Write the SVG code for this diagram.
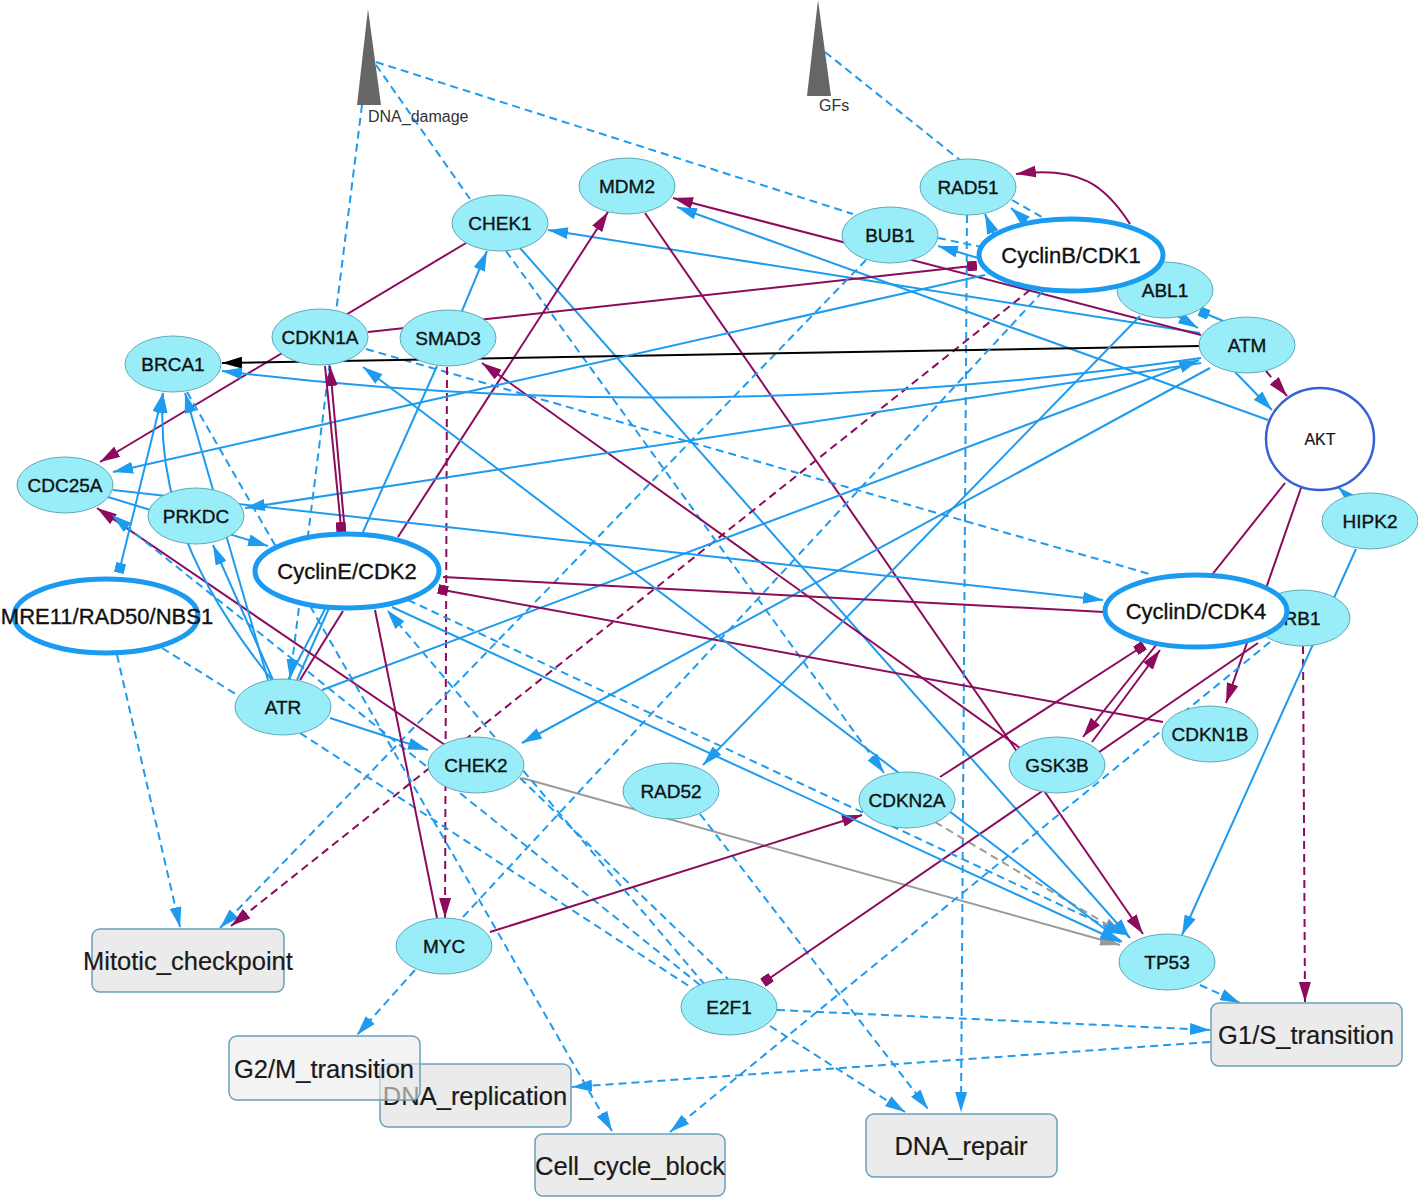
<svg xmlns="http://www.w3.org/2000/svg" width="1418" height="1197" viewBox="0 0 1418 1197">
<style>
.e{fill:none;stroke-width:2}
.b{stroke:#1E9BEF}
.p{stroke:#8C0B5C}
.g{stroke:#9A9A9A}
.k{stroke:#000}
.d{stroke-dasharray:8 5}
.n ellipse{fill:#98EDF9;stroke:#5FA9B8;stroke-width:1}
.big ellipse{fill:#fff;stroke:#1A9AF0;stroke-width:5}
.t{font-family:"Liberation Sans",Arial,sans-serif;font-size:19px;fill:#111;stroke:#111;stroke-width:0.35;text-anchor:middle;dominant-baseline:central}
.bt{font-size:22px}
.box rect{fill:#EBEBEB;stroke:#6BA0BA;stroke-width:1.5}
.bx{font-size:25.5px;fill:#1a1a1a;stroke:#1a1a1a;stroke-width:0.2}
.in{fill:#666}
.il{font-family:"Liberation Sans",Arial,sans-serif;font-size:16px;fill:#333}
</style>
<defs>
<marker id="ab" viewBox="0 0 20 12" refX="20" refY="6" markerWidth="20" markerHeight="12" orient="auto" markerUnits="userSpaceOnUse"><path d="M0,0L20,6L0,12z" fill="#1E9BEF"/></marker>
<marker id="ap" viewBox="0 0 20 12" refX="20" refY="6" markerWidth="20" markerHeight="12" orient="auto" markerUnits="userSpaceOnUse"><path d="M0,0L20,6L0,12z" fill="#8C0B5C"/></marker>
<marker id="ag" viewBox="0 0 20 12" refX="20" refY="6" markerWidth="20" markerHeight="12" orient="auto" markerUnits="userSpaceOnUse"><path d="M0,0L20,6L0,12z" fill="#9A9A9A"/></marker>
<marker id="ak" viewBox="0 0 20 12" refX="20" refY="6" markerWidth="20" markerHeight="12" orient="auto" markerUnits="userSpaceOnUse"><path d="M0,0L20,6L0,12z" fill="#000"/></marker>
<marker id="sb" viewBox="0 0 10 10" refX="5" refY="5" markerWidth="10" markerHeight="10" orient="auto" markerUnits="userSpaceOnUse"><rect width="10" height="10" fill="#1E9BEF"/></marker>
<marker id="sp" viewBox="0 0 10 10" refX="5" refY="5" markerWidth="10" markerHeight="10" orient="auto" markerUnits="userSpaceOnUse"><rect width="10" height="10" fill="#8C0B5C"/></marker>
</defs>
<g id="connectors">
<line class="e b d" x1="362" y1="105" x2="290" y2="679" marker-end="url(#ab)"/>
<line class="e b d" x1="376" y1="65" x2="470" y2="199"/>
<line class="e b d" x1="376" y1="62" x2="853" y2="214"/>
<line class="e b d" x1="825" y1="52" x2="960" y2="160"/>
<line class="e b" x1="1200" y1="333" x2="548" y2="230" marker-end="url(#ab)"/>
<line class="e p" x1="1201" y1="335" x2="673" y2="198" marker-end="url(#ap)"/>
<line class="e b" x1="1268" y1="420" x2="677" y2="207" marker-end="url(#ab)"/>
<line class="e b" x1="520" y1="248" x2="1130" y2="938" marker-end="url(#ab)"/>
<line class="e b d" x1="506" y1="251" x2="884" y2="773" marker-end="url(#ab)"/>
<line class="e b" x1="462" y1="311" x2="487" y2="251" marker-end="url(#ab)"/>
<line class="e p" x1="466" y1="243" x2="100" y2="462" marker-end="url(#ap)"/>
<line class="e p" x1="1020" y1="748" x2="482" y2="363" marker-end="url(#ap)"/>
<line class="e p" x1="645" y1="213" x2="1143" y2="934" marker-end="url(#ap)"/>
<path class="e p" d="M1130,224 C1105,185 1080,166 1016,174" marker-end="url(#ap)"/>
<line class="e b d" x1="967" y1="215" x2="961" y2="1112" marker-end="url(#ab)"/>
<line class="e p" x1="368" y1="332" x2="972" y2="266" marker-end="url(#sp)"/>
<line class="e b d" x1="366" y1="349" x2="1153" y2="575"/>
<line class="e p d" x1="447" y1="367" x2="445" y2="918" marker-end="url(#ap)"/>
<line class="e b" x1="437" y1="366" x2="297" y2="680"/>
<line class="e p" x1="398" y1="537" x2="608" y2="212" marker-end="url(#ap)"/>
<line class="e b" x1="978" y1="258" x2="938" y2="246" marker-end="url(#ab)"/>
<line class="e b d" x1="938" y1="238" x2="982" y2="247"/>
<line class="e b d" x1="866" y1="260" x2="220" y2="928" marker-end="url(#ab)"/>
<line class="e p d" x1="1030" y1="290" x2="231" y2="926" marker-end="url(#ap)"/>
<line class="e k" x1="1200" y1="346" x2="222" y2="363" marker-end="url(#ak)"/>
<path class="e b" d="M1201,358 Q700,430 222,371" marker-end="url(#ab)"/>
<line class="e b" x1="985" y1="275" x2="113" y2="472" marker-end="url(#ab)"/>
<line class="e b" x1="1201" y1="363" x2="245" y2="508" marker-end="url(#ab)"/>
<line class="e b" x1="108" y1="497" x2="268" y2="546" marker-end="url(#ab)"/>
<line class="e b" x1="113" y1="490" x2="1103" y2="600" marker-end="url(#ab)"/>
<line class="e b" x1="1210" y1="368" x2="522" y2="743" marker-end="url(#ab)"/>
<line class="e b" x1="330" y1="718" x2="428" y2="750" marker-end="url(#ab)"/>
<line class="e p" x1="445" y1="745" x2="97" y2="508" marker-end="url(#ap)"/>
<line class="e b d" x1="700" y1="985" x2="112" y2="515" marker-end="url(#ab)"/>
<line class="e b d" x1="300" y1="733" x2="695" y2="990"/>
<line class="e b d" x1="162" y1="648" x2="237" y2="695"/>
<line class="e b d" x1="117" y1="655" x2="180" y2="927" marker-end="url(#ab)"/>
<line class="e g" x1="522" y1="778" x2="1120" y2="945" marker-end="url(#ag)"/>
<line class="e g d" x1="935" y1="822" x2="1123" y2="934" marker-end="url(#ag)"/>
<line class="e b d" x1="520" y1="778" x2="728" y2="979"/>
<line class="e b d" x1="700" y1="814" x2="928" y2="1109" marker-end="url(#ab)"/>
<line class="e b" x1="1140" y1="316" x2="703" y2="765" marker-end="url(#ab)"/>
<line class="e b" x1="322" y1="690" x2="1199" y2="360" marker-end="url(#ab)"/>
<line class="e p d" x1="1266" y1="371" x2="1287" y2="396" marker-end="url(#ap)"/>
<line class="e b" x1="1235" y1="372" x2="1272" y2="410" marker-end="url(#ab)"/>
<line class="e b" x1="1228" y1="323" x2="1204" y2="313" marker-end="url(#sb)"/>
<line class="e b" x1="1150" y1="300" x2="1198" y2="328" marker-end="url(#ab)"/>
<line class="e b d" x1="1012" y1="200" x2="1130" y2="268"/>
<line class="e b" x1="1000" y1="250" x2="985" y2="214" marker-end="url(#ab)"/>
<line class="e b" x1="1045" y1="238" x2="1011" y2="208" marker-end="url(#ab)"/>
<line class="e p" x1="1092" y1="742" x2="1160" y2="650" marker-end="url(#ap)"/>
<line class="e p" x1="1285" y1="483" x2="1083" y2="737" marker-end="url(#ap)"/>
<line class="e p" x1="940" y1="777" x2="1140" y2="648" marker-end="url(#sp)"/>
<line class="e p" x1="1301" y1="488" x2="1226" y2="703" marker-end="url(#ap)"/>
<line class="e p" x1="443" y1="577" x2="1104" y2="612"/>
<line class="e p" x1="1163" y1="722" x2="443" y2="590" marker-end="url(#sp)"/>
<line class="e p" x1="1258" y1="643" x2="767" y2="980" marker-end="url(#sp)"/>
<line class="e p d" x1="1303" y1="646" x2="1305" y2="1002" marker-end="url(#ap)"/>
<line class="e b d" x1="1270" y1="642" x2="670" y2="1132" marker-end="url(#ab)"/>
<line class="e b" x1="1356" y1="549" x2="1182" y2="935" marker-end="url(#ab)"/>
<line class="e b" x1="1354" y1="502" x2="1338" y2="487" marker-end="url(#ab)"/>
<line class="e b" x1="1122" y1="942" x2="363" y2="367" marker-end="url(#ab)"/>
<line class="e b d" x1="1200" y1="985" x2="1240" y2="1003" marker-end="url(#ab)"/>
<line class="e b d" x1="777" y1="1010" x2="1210" y2="1030" marker-end="url(#ab)"/>
<line class="e b d" x1="1210" y1="1042" x2="572" y2="1087" marker-end="url(#ab)"/>
<line class="e b d" x1="770" y1="1026" x2="905" y2="1112" marker-end="url(#ab)"/>
<line class="e b d" x1="415" y1="970" x2="357" y2="1035" marker-end="url(#ab)"/>
<line class="e p" x1="490" y1="932" x2="862" y2="815" marker-end="url(#ap)"/>
<line class="e p" x1="375" y1="610" x2="437" y2="918"/>
<line class="e p" x1="343" y1="611" x2="300" y2="680"/>
<line class="e b" x1="325" y1="609" x2="288" y2="680"/>
<line class="e b d" x1="705" y1="985" x2="387" y2="610" marker-end="url(#ab)"/>
<line class="e b" x1="392" y1="607" x2="1120" y2="942" marker-end="url(#ab)"/>
<line class="e b d" x1="408" y1="600" x2="1125" y2="935" marker-end="url(#ab)"/>
<line class="e b d" x1="187" y1="392" x2="612" y2="1131" marker-end="url(#ab)"/>
<line class="e b" x1="120" y1="568" x2="163" y2="393" marker-start="url(#sb)" marker-end="url(#ab)"/>
<path class="e b" d="M272,680 C175,560 158,470 163,393" marker-end="url(#ab)"/>
<line class="e b" x1="268" y1="680" x2="185" y2="393" marker-end="url(#ab)"/>
<line class="e b" x1="273" y1="680" x2="213" y2="545" marker-end="url(#ab)"/>
<line class="e b d" x1="463" y1="917" x2="1045" y2="289"/>
<line class="e p" x1="345" y1="533" x2="330" y2="366" marker-end="url(#ap)"/>
<line class="e p" x1="325" y1="366" x2="341" y2="527" marker-end="url(#sp)"/>
</g>
<g id="DNA_damage"><polygon class="in" points="368,9 357,105 381,105"/><text class="il" x="368" y="122">DNA_damage</text></g>
<g id="GFs"><polygon class="in" points="818,0 807,96 831,96"/><text class="il" x="819" y="111">GFs</text></g>
<g id="BRCA1" class="n"><ellipse cx="173" cy="364" rx="48" ry="28"/><text class="t" x="173" y="364">BRCA1</text></g>
<g id="CDKN1A" class="n"><ellipse cx="320" cy="337" rx="48" ry="28"/><text class="t" x="320" y="337">CDKN1A</text></g>
<g id="SMAD3" class="n"><ellipse cx="448" cy="338" rx="48" ry="28"/><text class="t" x="448" y="338">SMAD3</text></g>
<g id="CHEK1" class="n"><ellipse cx="500" cy="223" rx="48" ry="28"/><text class="t" x="500" y="223">CHEK1</text></g>
<g id="MDM2" class="n"><ellipse cx="627" cy="186" rx="48" ry="28"/><text class="t" x="627" y="186">MDM2</text></g>
<g id="BUB1" class="n"><ellipse cx="890" cy="235" rx="48" ry="28"/><text class="t" x="890" y="235">BUB1</text></g>
<g id="RAD51" class="n"><ellipse cx="968" cy="187" rx="48" ry="28"/><text class="t" x="968" y="187">RAD51</text></g>
<g id="ABL1" class="n"><ellipse cx="1165" cy="290" rx="48" ry="28"/><text class="t" x="1165" y="290">ABL1</text></g>
<g id="CyclinB_CDK1" class="big"><ellipse cx="1071" cy="255" rx="92" ry="36"/><text class="t bt" x="1071" y="255">CyclinB/CDK1</text></g>
<g id="ATM" class="n"><ellipse cx="1247" cy="345" rx="48" ry="28"/><text class="t" x="1247" y="345">ATM</text></g>
<g id="AKT"><ellipse cx="1320" cy="439" rx="54" ry="51" fill="#fff" stroke="#3560D8" stroke-width="2.5"/><text class="t" x="1320" y="439" style="font-size:16px;stroke-width:0.2">AKT</text></g>
<g id="HIPK2" class="n"><ellipse cx="1370" cy="521" rx="48" ry="28"/><text class="t" x="1370" y="521">HIPK2</text></g>
<g id="RB1" class="n"><ellipse cx="1302" cy="618" rx="48" ry="28"/><text class="t" x="1302" y="618">RB1</text></g>
<g id="CyclinD_CDK4" class="big"><ellipse cx="1196" cy="611" rx="91" ry="36"/><text class="t bt" x="1196" y="611">CyclinD/CDK4</text></g>
<g id="CDKN1B" class="n"><ellipse cx="1210" cy="734" rx="48" ry="28"/><text class="t" x="1210" y="734">CDKN1B</text></g>
<g id="GSK3B" class="n"><ellipse cx="1057" cy="765" rx="48" ry="28"/><text class="t" x="1057" y="765">GSK3B</text></g>
<g id="CDKN2A" class="n"><ellipse cx="907" cy="800" rx="48" ry="28"/><text class="t" x="907" y="800">CDKN2A</text></g>
<g id="RAD52" class="n"><ellipse cx="671" cy="791" rx="48" ry="28"/><text class="t" x="671" y="791">RAD52</text></g>
<g id="CHEK2" class="n"><ellipse cx="476" cy="765" rx="48" ry="28"/><text class="t" x="476" y="765">CHEK2</text></g>
<g id="ATR" class="n"><ellipse cx="283" cy="707" rx="48" ry="28"/><text class="t" x="283" y="707">ATR</text></g>
<g id="MRE11_RAD50_NBS1" class="big"><ellipse cx="106" cy="616" rx="92" ry="37"/><text class="t bt" x="107" y="616">MRE11/RAD50/NBS1</text></g>
<g id="CDC25A" class="n"><ellipse cx="65" cy="485" rx="48" ry="28"/><text class="t" x="65" y="485">CDC25A</text></g>
<g id="PRKDC" class="n"><ellipse cx="196" cy="516" rx="48" ry="28"/><text class="t" x="196" y="516">PRKDC</text></g>
<g id="CyclinE_CDK2" class="big"><ellipse cx="347" cy="571" rx="92" ry="37"/><text class="t bt" x="347" y="571">CyclinE/CDK2</text></g>
<g id="MYC" class="n"><ellipse cx="444" cy="946" rx="48" ry="28"/><text class="t" x="444" y="946">MYC</text></g>
<g id="E2F1" class="n"><ellipse cx="729" cy="1007" rx="48" ry="28"/><text class="t" x="729" y="1007">E2F1</text></g>
<g id="TP53" class="n"><ellipse cx="1167" cy="962" rx="48" ry="28"/><text class="t" x="1167" y="962">TP53</text></g>
<g id="Mitotic_checkpoint" class="box"><rect x="92" y="929" width="192" height="63" rx="8"/><text class="t bx" x="188" y="961">Mitotic_checkpoint</text></g>
<g id="DNA_replication" class="box"><rect x="380" y="1064" width="191" height="63" rx="8"/><text class="t bx" x="475" y="1096">DNA_replication</text></g>
<g id="G2_M_transition" class="box"><rect x="229" y="1036" width="191" height="64" rx="8" style="fill-opacity:0.6"/><text class="t bx" x="324" y="1069">G2/M_transition</text></g>
<g id="Cell_cycle_block" class="box"><rect x="535" y="1134" width="190" height="62" rx="8"/><text class="t bx" x="630" y="1166">Cell_cycle_block</text></g>
<g id="DNA_repair" class="box"><rect x="866" y="1114" width="191" height="63" rx="8"/><text class="t bx" x="961" y="1146">DNA_repair</text></g>
<g id="G1_S_transition" class="box"><rect x="1211" y="1003" width="191" height="63" rx="8"/><text class="t bx" x="1306" y="1035">G1/S_transition</text></g>
</svg>
